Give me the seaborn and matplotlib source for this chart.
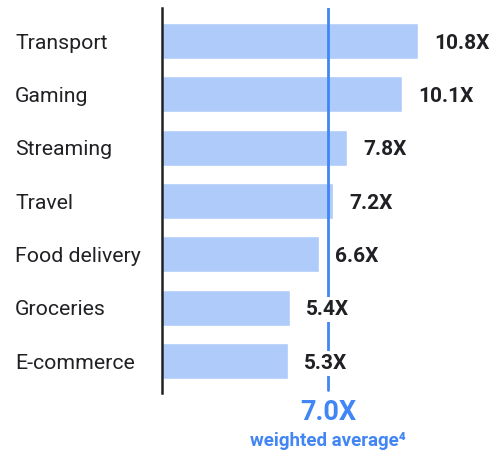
import matplotlib
matplotlib.use("Agg")
import matplotlib.pyplot as plt
import matplotlib.transforms as mtransforms
import seaborn as sns
import pandas as pd

categories = ["Transport", "Gaming", "Streaming", "Travel", "Food delivery", "Groceries", "E-commerce"]
multiples = [10.8, 10.1, 7.8, 7.2, 6.6, 5.4, 5.3]
value_labels = ["10.8X", "10.1X", "7.8X", "7.2X", "6.6X", "5.4X", "5.3X"]
weighted_average = 7.0
average_label = "7.0X"
average_caption = "weighted average⁴"

df = pd.DataFrame({"category": categories, "multiple": multiples})

sns.set_theme(style="white")
plt.rcParams["font.family"] = ["Roboto", "DejaVu Sans"]

BAR = "#aecbfa"
BLUE = "#4285f4"
INK = "#202124"

fig = plt.figure(figsize=(4.92, 4.51), dpi=100)
ax = fig.add_axes([162 / 492, 58 / 451, 328 / 492, 385 / 451])

sns.barplot(data=df, y="category", x="multiple", color=BAR, width=0.675,
            saturation=1, orient="h", ax=ax)

ax.set_xlim(0, 328 / 23.75)
ax.set_ylim(6.6, -0.62)

ax.axvline(weighted_average, ymin=0.008, ymax=1, color=BLUE, lw=2, zorder=3)

for i, (v, lab) in enumerate(zip(multiples, value_labels)):
    ax.text(v + 0.68, i + 0.04, lab, va="center", ha="left", fontsize=15,
            fontweight="bold", color=INK, zorder=5,
            bbox=dict(boxstyle="square,pad=0.15", fc="white", ec="none"))

# category names, left-aligned near the figure edge
name_tf = mtransforms.blended_transform_factory(fig.transFigure, ax.transData)
for i, name in enumerate(categories):
    ax.text(15 / 492, i + 0.04, name, transform=name_tf, ha="left", va="center",
            fontsize=15.3, color=INK, clip_on=False)

ax.text(weighted_average, 6.96, average_label, ha="center", va="center",
        fontsize=19.5, fontweight="bold", color=BLUE, clip_on=False)
ax.text(weighted_average, 7.5, average_caption, ha="center", va="center",
        fontsize=13.5, fontweight="bold", color=BLUE, clip_on=False)

ax.set_xlabel("")
ax.set_ylabel("")
ax.set_xticks([])
ax.set_yticks([])

for side in ["top", "right", "bottom"]:
    ax.spines[side].set_visible(False)
ax.spines["left"].set_color(INK)
ax.spines["left"].set_linewidth(1.8)

fig.savefig("out.png", dpi=100)
